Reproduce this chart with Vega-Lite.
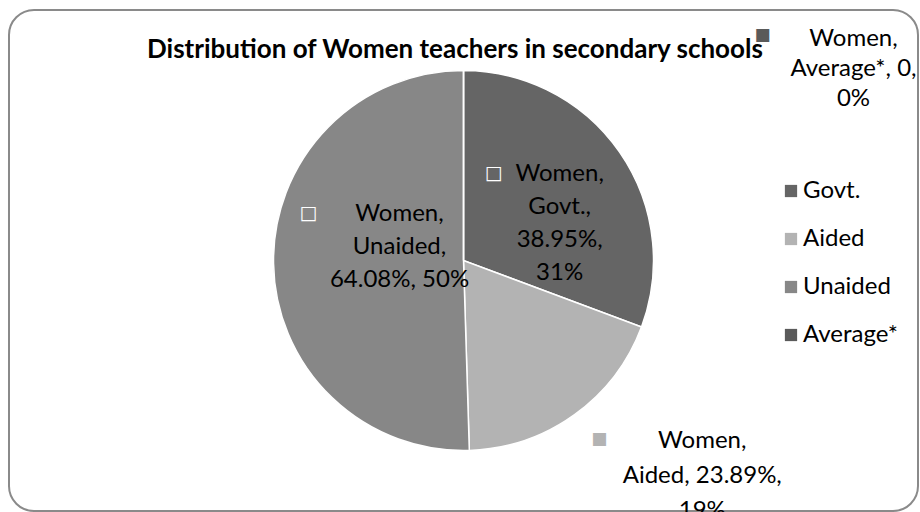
{
  "$schema": "https://vega.github.io/schema/vega-lite/v6.json",
  "autosize": "none",
  "width": 909,
  "height": 501,
  "padding": {"left": 9, "top": 10, "right": 2, "bottom": 1},
  "background": "white",
  "view": {"stroke": "#8a8a8a", "strokeWidth": 2, "cornerRadius": 25, "fill": "white"},
  "config": {
    "view": {"stroke": "#8a8a8a", "strokeWidth": 2, "cornerRadius": 25},
    "font": "Lato"
  },
  "title": {
    "text": "Distribution of Women teachers in secondary schools",
    "orient": "none",
    "font": "Lato",
    "fontSize": 26,
    "fontWeight": "bold",
    "letterSpacing": 0.5,
    "color": "#000000",
    "anchor": "start",
    "frame": "group",
    "dx": 138,
    "dy": 40,
    "baseline": "middle",
    "offset": 0
  },
  "data": {
    "values": [
      {"category": "Govt.", "value": 38.95, "order": 1, "label": "Women,\nGovt.,\n38.95%,\n31%"},
      {"category": "Aided", "value": 23.89, "order": 2, "label": "Women,\nAided, 23.89%,\n19%"},
      {"category": "Unaided", "value": 64.08, "order": 3, "label": "Women,\nUnaided,\n64.08%, 50%"},
      {"category": "Average*", "value": 0, "order": 4, "label": "Women,\nAverage*, 0,\n0%"}
    ]
  },
  "encoding": {
    "theta": {"field": "value", "type": "quantitative", "stack": true},
    "order": {"field": "order", "type": "quantitative"}
  },
  "layer": [
    {
      "mark": {"type": "arc", "outerRadius": 190, "stroke": "white", "strokeWidth": 1.5},
      "encoding": {
        "color": {
          "field": "category",
          "type": "nominal",
          "scale": {"domain": ["Govt.", "Aided", "Unaided", "Average*"], "range": ["#656565", "#b3b3b3", "#878787", "#5a5a5a"]},
          "legend": {
            "title": null,
            "orient": "none",
            "legendX": 770,
            "legendY": 169,
            "padding": 0,
            "symbolType": "square",
            "symbolSize": 150,
            "symbolStrokeWidth": 0,
            "labelFont": "Lato",
            "labelFontSize": 24,
            "labelColor": "#000000",
            "labelOffset": 0,
            "rowPadding": 24
          }
        }
      }
    },
    {
      "mark": {"type": "text", "radius": 100, "dx": 14, "dy": -29, "fontSize": 24, "lineHeight": 33, "lineBreak": "\n", "align": "center", "baseline": "middle", "color": "#000000"},
      "encoding": {"text": {"condition": {"test": "datum.category === 'Govt.'", "field": "label"}, "value": ""}}
    },
    {
      "mark": {"type": "text", "radius": 100, "dx": -52, "dy": -30, "font": "DejaVu Sans", "fontSize": 19, "align": "center", "baseline": "middle", "color": "#ffffff"},
      "encoding": {"text": {"condition": {"test": "datum.category === 'Govt.'", "value": "□"}, "value": ""}}
    },
    {
      "mark": {"type": "text", "radius": 64, "dx": 0, "dy": -47, "fontSize": 24, "lineHeight": 33, "lineBreak": "\n", "align": "center", "baseline": "middle", "color": "#000000"},
      "encoding": {"text": {"condition": {"test": "datum.category === 'Unaided'", "field": "label"}, "value": ""}}
    },
    {
      "mark": {"type": "text", "radius": 64, "dx": -91, "dy": -48, "font": "DejaVu Sans", "fontSize": 19, "align": "center", "baseline": "middle", "color": "#ffffff"},
      "encoding": {"text": {"condition": {"test": "datum.category === 'Unaided'", "value": "□"}, "value": ""}}
    },
    {
      "mark": {"type": "text", "radius": 257, "dx": 89, "dy": -28, "fontSize": 24, "lineHeight": 35, "lineBreak": "\n", "align": "center", "baseline": "middle", "color": "#000000"},
      "encoding": {"text": {"condition": {"test": "datum.category === 'Aided'", "field": "label"}, "value": ""}}
    },
    {
      "mark": {"type": "text", "radius": 257, "dx": -14, "dy": -30, "font": "DejaVu Sans", "fontSize": 17, "align": "center", "baseline": "middle", "color": "#b3b3b3"},
      "encoding": {"text": {"condition": {"test": "datum.category === 'Aided'", "value": "■"}, "value": ""}}
    },
    {
      "mark": {"type": "text", "radius": 193, "dx": 390, "dy": -29, "fontSize": 24, "lineHeight": 30, "lineBreak": "\n", "align": "center", "baseline": "middle", "color": "#000000"},
      "encoding": {"text": {"condition": {"test": "datum.category === 'Average*'", "field": "label"}, "value": ""}}
    },
    {
      "mark": {"type": "text", "radius": 193, "dx": 299, "dy": -33, "font": "DejaVu Sans", "fontSize": 17, "align": "center", "baseline": "middle", "color": "#5a5a5a"},
      "encoding": {"text": {"condition": {"test": "datum.category === 'Average*'", "value": "■"}, "value": ""}}
    }
  ]
}
